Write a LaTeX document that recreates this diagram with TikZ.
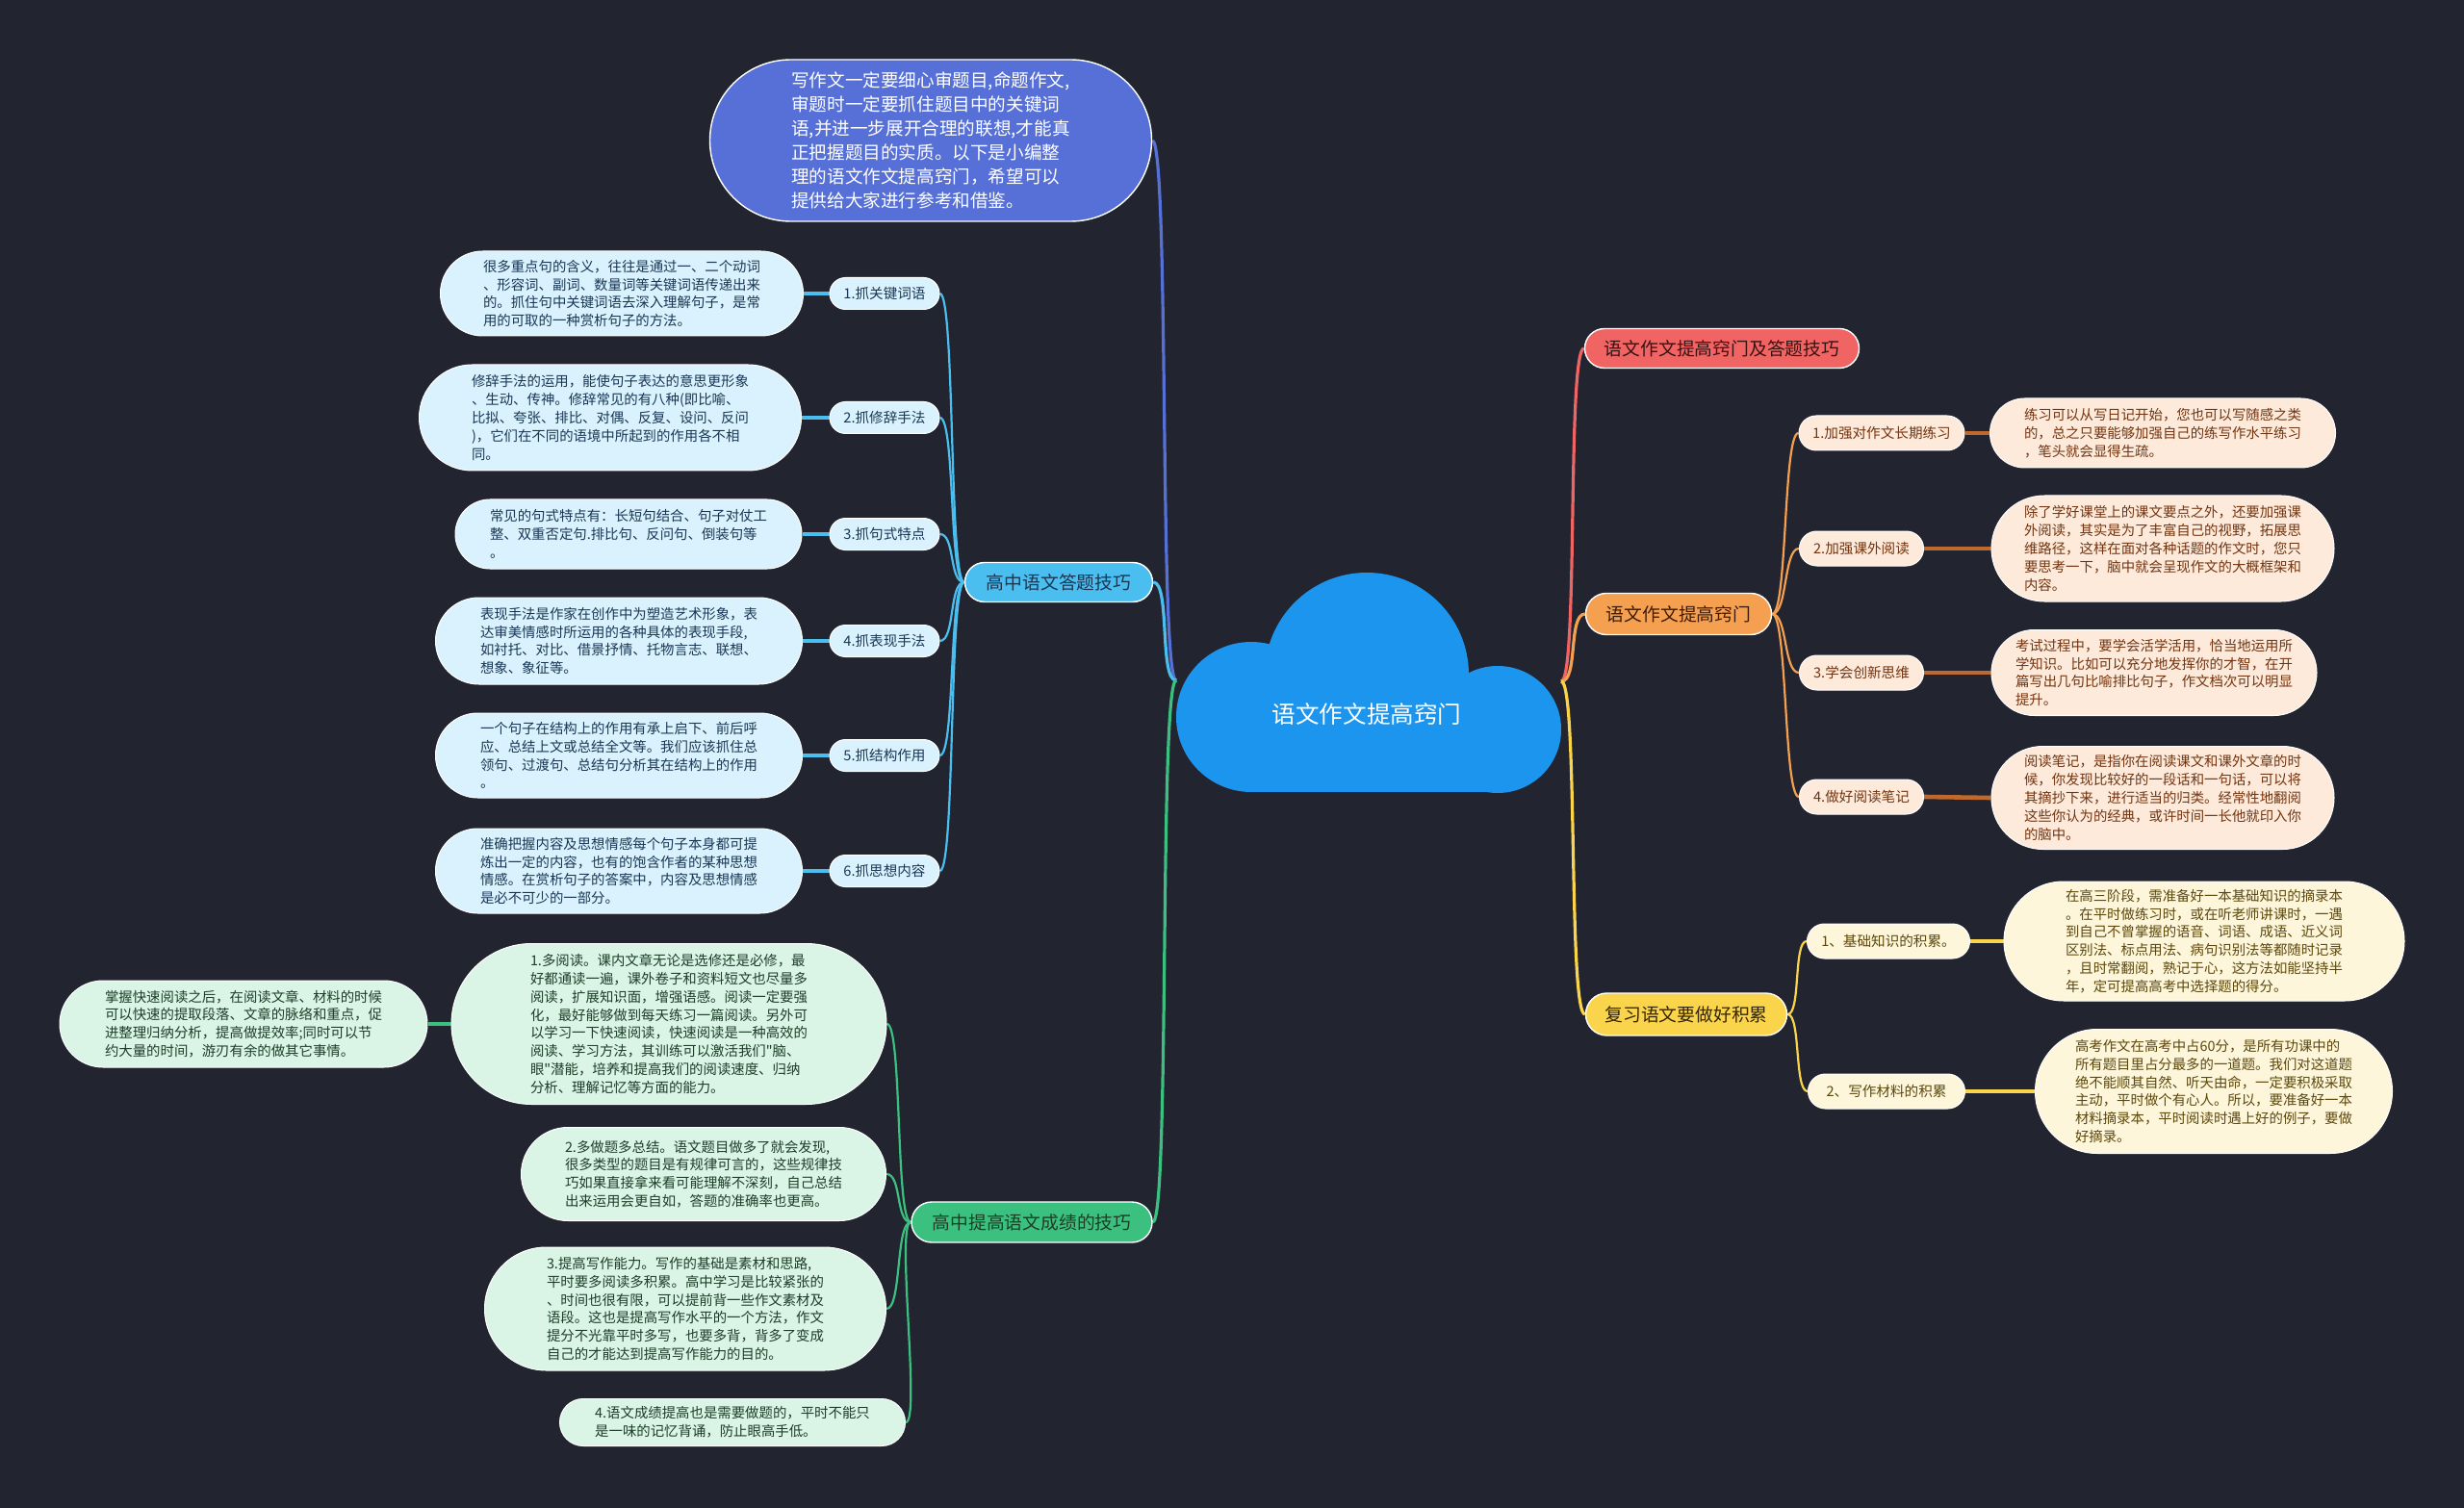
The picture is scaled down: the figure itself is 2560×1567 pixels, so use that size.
\documentclass[tikz,border=0pt]{standalone}
\usepackage{fontspec}
\newfontfamily\cjk{Noto Sans CJK SC}
\definecolor{bgc}{RGB}{34,37,48}
\definecolor{cloudc}{RGB}{27,149,237}
\definecolor{cintro}{RGB}{86,112,216}
\definecolor{cblue}{RGB}{75,190,240}
\definecolor{cgreen}{RGB}{60,192,128}
\definecolor{cred}{RGB}{240,100,100}
\definecolor{corange}{RGB}{245,160,80}
\definecolor{cyellow}{RGB}{250,212,75}
\definecolor{olink}{RGB}{190,105,45}
\definecolor{lblue}{RGB}{218,242,253}
\definecolor{lgreen}{RGB}{218,244,230}
\definecolor{lorange}{RGB}{253,234,219}
\definecolor{lyellow}{RGB}{254,246,218}
\definecolor{tblue}{RGB}{25,55,85}
\definecolor{tgreen}{RGB}{28,62,38}
\definecolor{torange}{RGB}{115,52,15}
\definecolor{tyellow}{RGB}{92,72,12}
\pgfdeclarelayer{back}
\pgfsetlayers{back,main}
\newcommand\leaffont{\cjk\fontsize{7.2}{9.4}\selectfont}
\newcommand\labfont{\cjk\fontsize{7.3}{9}\selectfont}
\newcommand\brfont{\cjk\fontsize{9.4}{11}\selectfont}
\newcommand\pill[7]{%
  \pgfmathsetmacro\pw{#4*0.5}%
  \pgfmathsetmacro\ph{#5*0.5}%
  \pgfmathsetmacro\pr{#5*0.25}%
  \node[#6, minimum width=\pw pt, minimum height=\ph pt, rounded corners=\pr pt] (#1) at (#2,#3) {#7};}
\tikzset{
  box/.style={draw=white, line width=0.5pt, inner sep=1pt, align=left},
  bleaf/.style={box, fill=lblue, text=tblue, font=\leaffont},
  blab/.style={box, fill=lblue, text=tblue, font=\labfont},
  gleaf/.style={box, fill=lgreen, text=tgreen, font=\leaffont},
  oleaf/.style={box, fill=lorange, text=torange, font=\leaffont},
  olab/.style={box, fill=lorange, text=torange, font=\labfont},
  yleaf/.style={box, fill=lyellow, text=tyellow, font=\leaffont},
  ylab/.style={box, fill=lyellow, text=tyellow, font=\labfont},
  branch/.style={draw=white, line width=0.7pt, inner sep=1pt, font=\brfont},
  cmain/.style={line width=1.6pt},
  csub/.style={line width=1.1pt},
  clink/.style={line width=2.3pt},
}
\begin{document}
\begin{tikzpicture}[x=0.5pt,y=-0.5pt]
\useasboundingbox (0,0) rectangle (2560,1567);
% cloud
\fill[cloudc] (1300,745) circle[radius=39pt];
\fill[cloudc] (1420,701) circle[radius=53pt];
\fill[cloudc] (1556,758) circle[radius=33pt];
\fill[cloudc] (1300,700) rectangle (1556,823);
\node[text=white, font=\cjk\fontsize{12.3}{14}\selectfont] (root) at (1420,742) {语文作文提高窍门};
\coordinate (cL) at (1222,707);
\coordinate (cR) at (1622,708);

% intro
\pill{intro}{967}{146}{459}{168}{draw=white, line width=0.7pt, fill=cintro, text=white, align=left, inner sep=1pt, font=\cjk\fontsize{9.3}{12.5}\selectfont}{写作文一定要细心审题目,命题作文,\\审题时一定要抓住题目中的关键词\\语,并进一步展开合理的联想,才能真\\正把握题目的实质。以下是小编整\\理的语文作文提高窍门，希望可以\\提供给大家进行参考和借鉴。}

% left branch 1
\pill{L1}{1100}{605}{195}{41}{branch, fill=cblue, text=tblue}{高中语文答题技巧}
\pill{lb1}{919}{305}{114}{33}{blab}{1.抓关键词语}
\pill{lb2}{919}{434}{114}{33}{blab}{2.抓修辞手法}
\pill{lb3}{919}{555}{114}{33}{blab}{3.抓句式特点}
\pill{lb4}{919}{666}{114}{33}{blab}{4.抓表现手法}
\pill{lb5}{919}{785}{114}{33}{blab}{5.抓结构作用}
\pill{lb6}{919}{905}{114}{33}{blab}{6.抓思想内容}
\pill{bl1}{646}{305}{377}{88}{bleaf}{很多重点句的含义，往往是通过一、二个动词\\、形容词、副词、数量词等关键词语传递出来\\的。抓住句中关键词语去深入理解句子，是常\\用的可取的一种赏析句子的方法。}
\pill{bl2}{634}{434}{397}{110}{bleaf}{修辞手法的运用，能使句子表达的意思更形象\\、生动、传神。修辞常见的有八种(即比喻、\\比拟、夸张、排比、对偶、反复、设问、反问\\)，它们在不同的语境中所起到的作用各不相\\同。}
\pill{bl3}{653}{555}{360}{72}{bleaf}{常见的句式特点有：长短句结合、句子对仗工\\整、双重否定句.排比句、反问句、倒装句等\\。}
\pill{bl4}{643}{666}{381}{90}{bleaf}{表现手法是作家在创作中为塑造艺术形象，表\\达审美情感时所运用的各种具体的表现手段,\\如衬托、对比、借景抒情、托物言志、联想、\\想象、象征等。}
\pill{bl5}{643}{785}{381}{88}{bleaf}{一个句子在结构上的作用有承上启下、前后呼\\应、总结上文或总结全文等。我们应该抓住总\\领句、过渡句、总结句分析其在结构上的作用\\。}
\pill{bl6}{643}{905}{381}{88}{bleaf}{准确把握内容及思想情感每个句子本身都可提\\炼出一定的内容，也有的饱含作者的某种思想\\情感。在赏析句子的答案中，内容及思想情感\\是必不可少的一部分。}

% left branch 2
\pill{L2}{1072}{1270}{250}{42}{branch, fill=cgreen, text=tgreen}{高中提高语文成绩的技巧}
\pill{g1}{695}{1064}{452}{167}{gleaf}{1.多阅读。课内文章无论是选修还是必修，最\\好都通读一遍，课外卷子和资料短文也尽量多\\阅读，扩展知识面，增强语感。阅读一定要强\\化，最好能够做到每天练习一篇阅读。另外可\\以学习一下快速阅读，快速阅读是一种高效的\\阅读、学习方法，其训练可以激活我们"脑、\\眼"潜能，培养和提高我们的阅读速度、归纳\\分析、理解记忆等方面的能力。}
\pill{g1a}{253}{1064}{382}{90}{gleaf}{掌握快速阅读之后，在阅读文章、材料的时候\\可以快速的提取段落、文章的脉络和重点，促\\进整理归纳分析，提高做提效率;同时可以节\\约大量的时间，游刃有余的做其它事情。}
\pill{g2}{731}{1220}{379}{97}{gleaf}{2.多做题多总结。语文题目做多了就会发现,\\很多类型的题目是有规律可言的，这些规律技\\巧如果直接拿来看可能理解不深刻，自己总结\\出来运用会更自如，答题的准确率也更高。}
\pill{g3}{712}{1360}{417}{128}{gleaf}{3.提高写作能力。写作的基础是素材和思路,\\平时要多阅读多积累。高中学习是比较紧张的\\、时间也很有限，可以提前背一些作文素材及\\语段。这也是提高写作水平的一个方法，作文\\提分不光靠平时多写，也要多背，背多了变成\\自己的才能达到提高写作能力的目的。}
\pill{g4}{761}{1478}{359}{49}{gleaf}{4.语文成绩提高也是需要做题的，平时不能只\\是一味的记忆背诵，防止眼高手低。}

% right branches
\pill{R1}{1789}{362}{285}{41}{branch, fill=cred, text={rgb,255:red,55;green,18;blue,18}}{语文作文提高窍门及答题技巧}
\pill{R2}{1744}{638}{193}{43}{branch, fill=corange, text={rgb,255:red,60;green,28;blue,8}}{语文作文提高窍门}
\pill{R3}{1752}{1054}{209}{44}{branch, fill=cyellow, text={rgb,255:red,50;green,38;blue,8}}{复习语文要做好积累}

\pill{ol1}{1955}{450}{172}{36}{olab}{1.加强对作文长期练习}
\pill{ol2}{1934}{570}{129}{36}{olab}{2.加强课外阅读}
\pill{ol3}{1934}{699}{129}{36}{olab}{3.学会创新思维}
\pill{ol4}{1934}{828}{129}{36}{olab}{4.做好阅读笔记}
\pill{or1}{2247}{450}{359}{72}{oleaf}{练习可以从写日记开始，您也可以写随感之类\\的，总之只要能够加强自己的练写作水平练习\\，笔头就会显得生疏。}
\pill{or2}{2247}{570}{356}{110}{oleaf}{除了学好课堂上的课文要点之外，还要加强课\\外阅读，其实是为了丰富自己的视野，拓展思\\维路径，这样在面对各种话题的作文时，您只\\要思考一下，脑中就会呈现作文的大概框架和\\内容。}
\pill{or3}{2238}{699}{338}{89}{oleaf}{考试过程中，要学会活学活用，恰当地运用所\\学知识。比如可以充分地发挥你的才智，在开\\篇写出几句比喻排比句子，作文档次可以明显\\提升。}
\pill{or4}{2247}{829}{356}{107}{oleaf}{阅读笔记，是指你在阅读课文和课外文章的时\\候，你发现比较好的一段话和一句话，可以将\\其摘抄下来，进行适当的归类。经常性地翻阅\\这些你认为的经典，或许时间一长他就印入你\\的脑中。}

\pill{yl1}{1962}{978}{169}{36}{ylab}{1、基础知识的积累。}
\pill{yl2}{1960}{1134}{163}{36}{ylab}{2、写作材料的积累}
\pill{yr1}{2290}{978}{416}{124}{yleaf}{在高三阶段，需准备好一本基础知识的摘录本\\。在平时做练习时，或在听老师讲课时，一遇\\到自己不曾掌握的语音、词语、成语、近义词\\区别法、标点用法、病句识别法等都随时记录\\，且时常翻阅，熟记于心，这方法如能坚持半\\年，定可提高高考中选择题的得分。}
\pill{yr2}{2300}{1134}{371}{129}{yleaf}{高考作文在高考中占60分，是所有功课中的\\所有题目里占分最多的一道题。我们对这道题\\绝不能顺其自然、听天由命，一定要积极采取\\主动，平时做个有心人。所以，要准备好一本\\材料摘录本，平时阅读时遇上好的例子，要做\\好摘录。}

\begin{pgfonlayer}{back}
\fill[bgc] (0,0) rectangle (2560,1567);
% root connectors
\draw[cmain, cintro] (cL) .. controls +(-18,0) and +(18,0) .. (intro.east);
\draw[cmain, cblue] (cL) .. controls +(-18,0) and +(18,0) .. (L1.east);
\draw[cmain, cgreen] (cL) .. controls +(-18,0) and +(18,0) .. (L2.east);
\draw[cmain, cred] (cR) .. controls +(18,0) and +(-18,0) .. (R1.west);
\draw[cmain, corange] (cR) .. controls +(18,0) and +(-18,0) .. (R2.west);
\draw[cmain, cyellow] (cR) .. controls +(18,0) and +(-18,0) .. (R3.west);
% L1 children
\foreach \k in {1,...,6}{
  \draw[csub, cblue] (L1.west) .. controls +(-16,0) and +(16,0) .. (lb\k.east);
  \draw[clink, cblue] (lb\k.west) -- (bl\k.east);
}
% L2 children
\foreach \k in {g1,g2,g3,g4}{
  \draw[csub, cgreen] (L2.west) .. controls +(-16,0) and +(16,0) .. (\k.east);
}
\draw[clink, cgreen] (g1.west) -- (g1a.east);
% R2 children
\foreach \k in {1,...,4}{
  \draw[csub, corange] (R2.east) .. controls +(16,0) and +(-16,0) .. (ol\k.west);
  \draw[clink, olink] (ol\k.east) -- (or\k.west);
}
% R3 children
\foreach \k in {1,2}{
  \draw[csub, cyellow] (R3.east) .. controls +(14,0) and +(-14,0) .. (yl\k.west);
  \draw[clink, cyellow] (yl\k.east) -- (yr\k.west);
}
\end{pgfonlayer}
\end{tikzpicture}
\end{document}
